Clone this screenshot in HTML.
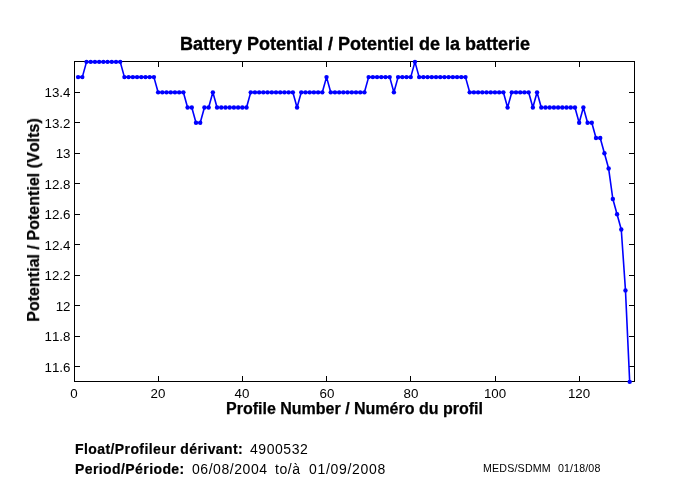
<!DOCTYPE html>
<html><head><meta charset="utf-8"><title>Battery Potential</title>
<style>
html,body{margin:0;padding:0;background:#fff;}
body{width:680px;height:500px;position:relative;overflow:hidden;font-family:"Liberation Sans",sans-serif;color:#000;font-kerning:none;}
svg{position:absolute;left:0;top:0;}
.t{position:absolute;white-space:nowrap;line-height:1;will-change:transform;}
.b{font-weight:bold;}
.xt{will-change:transform;position:absolute;width:40px;text-align:center;top:386.5px;font-size:13.33px;line-height:1;}
.yt{will-change:transform;position:absolute;left:0;width:70.5px;text-align:right;font-size:13.33px;line-height:16px;height:16px;}
#title{left:180px;top:35px;font-size:18px;-webkit-text-stroke:0.35px #000;}
#xlab{left:226px;top:401px;font-size:16px;-webkit-text-stroke:0.25px #000;}
#ylab{left:33.8px;top:219.5px;font-size:16px;-webkit-text-stroke:0.25px #000;letter-spacing:0.03px;transform:translate(-50%,-50%) rotate(-90deg);}
.r14{font-size:14px;letter-spacing:0.55px;}
.b14{font-size:14px;letter-spacing:0.41px;font-weight:bold;-webkit-text-stroke:0.2px #000;}
#l1{left:74.5px;top:441.5px;}
#l1v{left:249.5px;top:441.5px;}
#l2{left:74.5px;top:461.5px;}
#l2a{left:192px;top:461.5px;}
#l2b{left:275px;top:461.5px;}
#l2c{left:308.6px;top:461.5px;letter-spacing:0.68px;}
#m1{left:483px;top:463px;font-size:10.67px;letter-spacing:0.17px;}
#m2{left:557.5px;top:463px;font-size:10.67px;letter-spacing:0.12px;}
.n{font-weight:normal;}
</style></head><body>
<svg width="680" height="500" viewBox="0 0 680 500">
<rect x="74.5" y="61.5" width="560" height="320" fill="none" stroke="#000" stroke-width="1" shape-rendering="crispEdges"/>
<g stroke="#000" stroke-width="1" fill="none" shape-rendering="crispEdges"><path d="M158.5 381.5V376.0 M158.5 61.5V67.0"/><path d="M242.5 381.5V376.0 M242.5 61.5V67.0"/><path d="M326.5 381.5V376.0 M326.5 61.5V67.0"/><path d="M410.5 381.5V376.0 M410.5 61.5V67.0"/><path d="M495.5 381.5V376.0 M495.5 61.5V67.0"/><path d="M579.5 381.5V376.0 M579.5 61.5V67.0"/><path d="M74.5 366.5H80.0 M634.5 366.5H629.0"/><path d="M74.5 336.5H80.0 M634.5 336.5H629.0"/><path d="M74.5 305.5H80.0 M634.5 305.5H629.0"/><path d="M74.5 275.5H80.0 M634.5 275.5H629.0"/><path d="M74.5 244.5H80.0 M634.5 244.5H629.0"/><path d="M74.5 214.5H80.0 M634.5 214.5H629.0"/><path d="M74.5 183.5H80.0 M634.5 183.5H629.0"/><path d="M74.5 153.5H80.0 M634.5 153.5H629.0"/><path d="M74.5 122.5H80.0 M634.5 122.5H629.0"/><path d="M74.5 92.5H80.0 M634.5 92.5H629.0"/></g>
<polyline points="78.11,77.09 82.32,77.09 86.53,61.85 90.74,61.85 94.95,61.85 99.16,61.85 103.37,61.85 107.58,61.85 111.79,61.85 116.01,61.85 120.22,61.85 124.43,77.09 128.64,77.09 132.85,77.09 137.06,77.09 141.27,77.09 145.48,77.09 149.69,77.09 153.90,77.09 158.11,92.33 162.32,92.33 166.53,92.33 170.74,92.33 174.95,92.33 179.16,92.33 183.37,92.33 187.58,107.56 191.79,107.56 196.01,122.80 200.22,122.80 204.43,107.56 208.64,107.56 212.85,92.33 217.06,107.56 221.27,107.56 225.48,107.56 229.69,107.56 233.90,107.56 238.11,107.56 242.32,107.56 246.53,107.56 250.74,92.33 254.95,92.33 259.16,92.33 263.37,92.33 267.58,92.33 271.79,92.33 276.01,92.33 280.22,92.33 284.43,92.33 288.64,92.33 292.85,92.33 297.06,107.56 301.27,92.33 305.48,92.33 309.69,92.33 313.90,92.33 318.11,92.33 322.32,92.33 326.53,77.09 330.74,92.33 334.95,92.33 339.16,92.33 343.37,92.33 347.58,92.33 351.79,92.33 356.01,92.33 360.22,92.33 364.43,92.33 368.64,77.09 372.85,77.09 377.06,77.09 381.27,77.09 385.48,77.09 389.69,77.09 393.90,92.33 398.11,77.09 402.32,77.09 406.53,77.09 410.74,77.09 414.95,61.85 419.16,77.09 423.37,77.09 427.58,77.09 431.79,77.09 436.01,77.09 440.22,77.09 444.43,77.09 448.64,77.09 452.85,77.09 457.06,77.09 461.27,77.09 465.48,77.09 469.69,92.33 473.90,92.33 478.11,92.33 482.32,92.33 486.53,92.33 490.74,92.33 494.95,92.33 499.16,92.33 503.37,92.33 507.58,107.56 511.79,92.33 516.01,92.33 520.22,92.33 524.43,92.33 528.64,92.33 532.85,107.56 537.06,92.33 541.27,107.56 545.48,107.56 549.69,107.56 553.90,107.56 558.11,107.56 562.32,107.56 566.53,107.56 570.74,107.56 574.95,107.56 579.16,122.80 583.37,107.56 587.58,122.80 591.79,122.80 596.01,138.04 600.22,138.04 604.43,153.28 608.64,168.52 612.85,198.99 617.06,214.23 621.27,229.47 625.48,290.42 629.69,381.85" fill="none" stroke="#00f" stroke-width="1.6" stroke-linejoin="round"/>
<g fill="#00f"><circle cx="78.11" cy="77.09" r="2.2"/><circle cx="82.32" cy="77.09" r="2.2"/><circle cx="86.53" cy="61.85" r="2.2"/><circle cx="90.74" cy="61.85" r="2.2"/><circle cx="94.95" cy="61.85" r="2.2"/><circle cx="99.16" cy="61.85" r="2.2"/><circle cx="103.37" cy="61.85" r="2.2"/><circle cx="107.58" cy="61.85" r="2.2"/><circle cx="111.79" cy="61.85" r="2.2"/><circle cx="116.01" cy="61.85" r="2.2"/><circle cx="120.22" cy="61.85" r="2.2"/><circle cx="124.43" cy="77.09" r="2.2"/><circle cx="128.64" cy="77.09" r="2.2"/><circle cx="132.85" cy="77.09" r="2.2"/><circle cx="137.06" cy="77.09" r="2.2"/><circle cx="141.27" cy="77.09" r="2.2"/><circle cx="145.48" cy="77.09" r="2.2"/><circle cx="149.69" cy="77.09" r="2.2"/><circle cx="153.90" cy="77.09" r="2.2"/><circle cx="158.11" cy="92.33" r="2.2"/><circle cx="162.32" cy="92.33" r="2.2"/><circle cx="166.53" cy="92.33" r="2.2"/><circle cx="170.74" cy="92.33" r="2.2"/><circle cx="174.95" cy="92.33" r="2.2"/><circle cx="179.16" cy="92.33" r="2.2"/><circle cx="183.37" cy="92.33" r="2.2"/><circle cx="187.58" cy="107.56" r="2.2"/><circle cx="191.79" cy="107.56" r="2.2"/><circle cx="196.01" cy="122.80" r="2.2"/><circle cx="200.22" cy="122.80" r="2.2"/><circle cx="204.43" cy="107.56" r="2.2"/><circle cx="208.64" cy="107.56" r="2.2"/><circle cx="212.85" cy="92.33" r="2.2"/><circle cx="217.06" cy="107.56" r="2.2"/><circle cx="221.27" cy="107.56" r="2.2"/><circle cx="225.48" cy="107.56" r="2.2"/><circle cx="229.69" cy="107.56" r="2.2"/><circle cx="233.90" cy="107.56" r="2.2"/><circle cx="238.11" cy="107.56" r="2.2"/><circle cx="242.32" cy="107.56" r="2.2"/><circle cx="246.53" cy="107.56" r="2.2"/><circle cx="250.74" cy="92.33" r="2.2"/><circle cx="254.95" cy="92.33" r="2.2"/><circle cx="259.16" cy="92.33" r="2.2"/><circle cx="263.37" cy="92.33" r="2.2"/><circle cx="267.58" cy="92.33" r="2.2"/><circle cx="271.79" cy="92.33" r="2.2"/><circle cx="276.01" cy="92.33" r="2.2"/><circle cx="280.22" cy="92.33" r="2.2"/><circle cx="284.43" cy="92.33" r="2.2"/><circle cx="288.64" cy="92.33" r="2.2"/><circle cx="292.85" cy="92.33" r="2.2"/><circle cx="297.06" cy="107.56" r="2.2"/><circle cx="301.27" cy="92.33" r="2.2"/><circle cx="305.48" cy="92.33" r="2.2"/><circle cx="309.69" cy="92.33" r="2.2"/><circle cx="313.90" cy="92.33" r="2.2"/><circle cx="318.11" cy="92.33" r="2.2"/><circle cx="322.32" cy="92.33" r="2.2"/><circle cx="326.53" cy="77.09" r="2.2"/><circle cx="330.74" cy="92.33" r="2.2"/><circle cx="334.95" cy="92.33" r="2.2"/><circle cx="339.16" cy="92.33" r="2.2"/><circle cx="343.37" cy="92.33" r="2.2"/><circle cx="347.58" cy="92.33" r="2.2"/><circle cx="351.79" cy="92.33" r="2.2"/><circle cx="356.01" cy="92.33" r="2.2"/><circle cx="360.22" cy="92.33" r="2.2"/><circle cx="364.43" cy="92.33" r="2.2"/><circle cx="368.64" cy="77.09" r="2.2"/><circle cx="372.85" cy="77.09" r="2.2"/><circle cx="377.06" cy="77.09" r="2.2"/><circle cx="381.27" cy="77.09" r="2.2"/><circle cx="385.48" cy="77.09" r="2.2"/><circle cx="389.69" cy="77.09" r="2.2"/><circle cx="393.90" cy="92.33" r="2.2"/><circle cx="398.11" cy="77.09" r="2.2"/><circle cx="402.32" cy="77.09" r="2.2"/><circle cx="406.53" cy="77.09" r="2.2"/><circle cx="410.74" cy="77.09" r="2.2"/><circle cx="414.95" cy="61.85" r="2.2"/><circle cx="419.16" cy="77.09" r="2.2"/><circle cx="423.37" cy="77.09" r="2.2"/><circle cx="427.58" cy="77.09" r="2.2"/><circle cx="431.79" cy="77.09" r="2.2"/><circle cx="436.01" cy="77.09" r="2.2"/><circle cx="440.22" cy="77.09" r="2.2"/><circle cx="444.43" cy="77.09" r="2.2"/><circle cx="448.64" cy="77.09" r="2.2"/><circle cx="452.85" cy="77.09" r="2.2"/><circle cx="457.06" cy="77.09" r="2.2"/><circle cx="461.27" cy="77.09" r="2.2"/><circle cx="465.48" cy="77.09" r="2.2"/><circle cx="469.69" cy="92.33" r="2.2"/><circle cx="473.90" cy="92.33" r="2.2"/><circle cx="478.11" cy="92.33" r="2.2"/><circle cx="482.32" cy="92.33" r="2.2"/><circle cx="486.53" cy="92.33" r="2.2"/><circle cx="490.74" cy="92.33" r="2.2"/><circle cx="494.95" cy="92.33" r="2.2"/><circle cx="499.16" cy="92.33" r="2.2"/><circle cx="503.37" cy="92.33" r="2.2"/><circle cx="507.58" cy="107.56" r="2.2"/><circle cx="511.79" cy="92.33" r="2.2"/><circle cx="516.01" cy="92.33" r="2.2"/><circle cx="520.22" cy="92.33" r="2.2"/><circle cx="524.43" cy="92.33" r="2.2"/><circle cx="528.64" cy="92.33" r="2.2"/><circle cx="532.85" cy="107.56" r="2.2"/><circle cx="537.06" cy="92.33" r="2.2"/><circle cx="541.27" cy="107.56" r="2.2"/><circle cx="545.48" cy="107.56" r="2.2"/><circle cx="549.69" cy="107.56" r="2.2"/><circle cx="553.90" cy="107.56" r="2.2"/><circle cx="558.11" cy="107.56" r="2.2"/><circle cx="562.32" cy="107.56" r="2.2"/><circle cx="566.53" cy="107.56" r="2.2"/><circle cx="570.74" cy="107.56" r="2.2"/><circle cx="574.95" cy="107.56" r="2.2"/><circle cx="579.16" cy="122.80" r="2.2"/><circle cx="583.37" cy="107.56" r="2.2"/><circle cx="587.58" cy="122.80" r="2.2"/><circle cx="591.79" cy="122.80" r="2.2"/><circle cx="596.01" cy="138.04" r="2.2"/><circle cx="600.22" cy="138.04" r="2.2"/><circle cx="604.43" cy="153.28" r="2.2"/><circle cx="608.64" cy="168.52" r="2.2"/><circle cx="612.85" cy="198.99" r="2.2"/><circle cx="617.06" cy="214.23" r="2.2"/><circle cx="621.27" cy="229.47" r="2.2"/><circle cx="625.48" cy="290.42" r="2.2"/><circle cx="629.69" cy="381.85" r="2.2"/></g>
</svg>
<div class="t b" id="title">Battery Potential / Potentiel de la batterie</div>
<div class="xt" style="left:53.9px">0</div><div class="xt" style="left:138.1px">20</div><div class="xt" style="left:222.3px">40</div><div class="xt" style="left:306.5px">60</div><div class="xt" style="left:390.7px">80</div><div class="xt" style="left:475.0px">100</div><div class="xt" style="left:559.2px">120</div>
<div class="yt" style="top:359.6px">11.6</div><div class="yt" style="top:329.1px">11.8</div><div class="yt" style="top:298.7px">12</div><div class="yt" style="top:268.2px">12.2</div><div class="yt" style="top:237.7px">12.4</div><div class="yt" style="top:207.2px">12.6</div><div class="yt" style="top:176.8px">12.8</div><div class="yt" style="top:146.3px">13</div><div class="yt" style="top:115.8px">13.2</div><div class="yt" style="top:85.3px">13.4</div>
<div class="t b" id="xlab">Profile Number / Numéro du profil</div>
<div class="t b" id="ylab">Potential / Potentiel (Volts)</div>
<div class="t b14" id="l1">Float/Profileur dérivant:</div>
<div class="t r14" id="l1v">4900532</div>
<div class="t b14" id="l2">Period/Période:</div>
<div class="t r14" id="l2a">06/08/2004</div>
<div class="t r14" id="l2b">to/à</div>
<div class="t r14" id="l2c">01/09/2008</div>
<div class="t" id="m1">MEDS/SDMM</div>
<div class="t" id="m2">01/18/08</div>
</body></html>
